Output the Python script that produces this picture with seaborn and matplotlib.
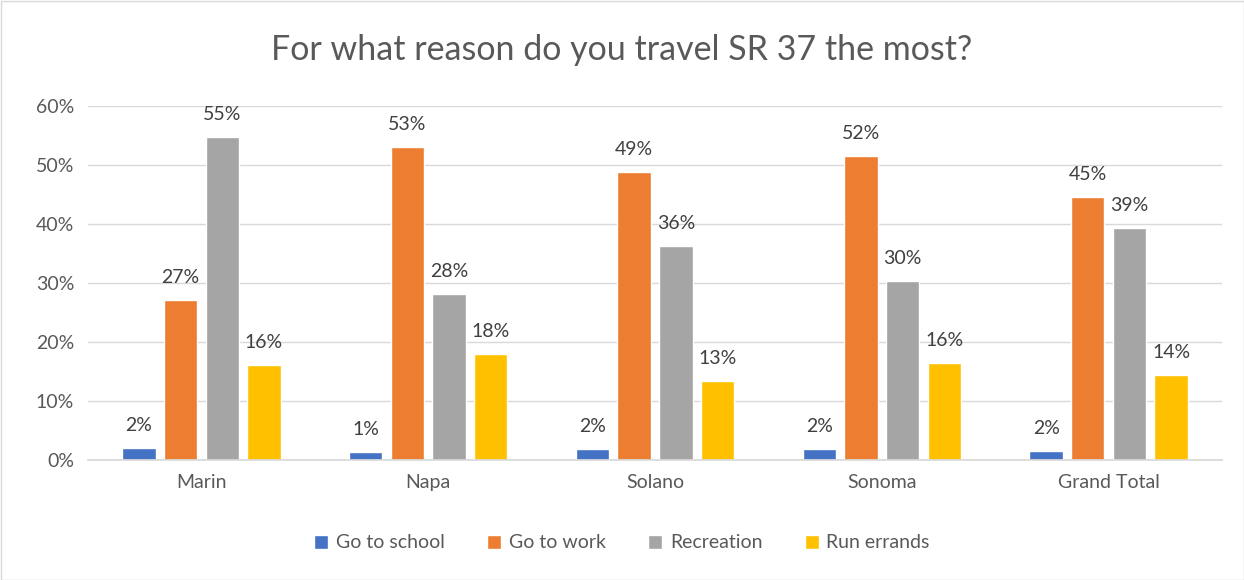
import matplotlib
matplotlib.use("Agg")
import matplotlib.pyplot as plt
import seaborn as sns
import pandas as pd
from matplotlib.patches import Rectangle

categories = ["Marin", "Napa", "Solano", "Sonoma", "Grand Total"]
reasons = ["Go to school", "Go to work", "Recreation", "Run errands"]
go_to_school = [2.0, 1.3, 1.8, 1.8, 1.6]
go_to_work = [27.2, 53.0, 48.8, 51.6, 44.6]
recreation = [54.7, 28.1, 36.3, 30.4, 39.4]
run_errands = [16.1, 18.0, 13.4, 16.4, 14.4]
yticks = [0, 10, 20, 30, 40, 50, 60]
colors = ["#4472C4", "#ED7D31", "#A5A5A5", "#FFC000"]

rows = []
for r, vals in zip(reasons, [go_to_school, go_to_work, recreation, run_errands]):
    for c, v in zip(categories, vals):
        rows.append({"County": c, "Reason": r, "Value": v})
df = pd.DataFrame(rows)

sns.set_theme(style="white")
plt.rcParams['font.family'] = ['Lato', 'DejaVu Sans']
text_color = "#595959"

fig = plt.figure(figsize=(12.44, 5.80), dpi=100)
ax = fig.add_axes([88/1244, 1-460/580, (1222-88)/1244, (460-106)/580])

sns.barplot(data=df, x="County", y="Value", hue="Reason", order=categories,
            hue_order=reasons, palette=colors, width=0.735, gap=0.2,
            saturation=1, ax=ax, legend=True, errorbar=None)

for cont in ax.containers:
    labels = [f"{int(b.get_height() + 0.5)}%" for b in cont]
    ax.bar_label(cont, labels=labels, padding=10, fontsize=14, color="#404040")

ax.set_ylim(0, 60)
ax.set_xlim(-0.5, 4.5)
ax.set_yticks(yticks)
ax.set_yticklabels([f"{t}%" for t in yticks], fontsize=14, color=text_color)
ax.tick_params(axis='x', labelsize=14, colors=text_color, length=0, pad=10)
ax.tick_params(axis='y', length=0, pad=10)
ax.yaxis.grid(True, color="#D9D9D9", linewidth=1)
ax.set_axisbelow(True)
for s in ["top", "right", "left"]:
    ax.spines[s].set_visible(False)
ax.spines["bottom"].set_color("#D9D9D9")
ax.set_xlabel("")
ax.set_ylabel("")

fig.text(0.5, 1-50/580, "For what reason do you travel SR 37 the most?",
         ha="center", va="center", fontsize=24.5, color=text_color)

handles, labs = ax.get_legend_handles_labels()
ax.legend_.remove()
fig.legend(handles, labs, loc="center", bbox_to_anchor=(0.5, 1-543/580),
           ncol=4, frameon=False, fontsize=14, handlelength=0.7, handleheight=0.7,
           handletextpad=0.4, columnspacing=2.2, labelcolor=text_color)

fig.patches.append(Rectangle((0.5/1244, 0.5/580), 1-1/1244, 1-1/580, transform=fig.transFigure,
                             fill=False, edgecolor="#D9D9D9", linewidth=1))

fig.savefig("out.png", dpi=100)
